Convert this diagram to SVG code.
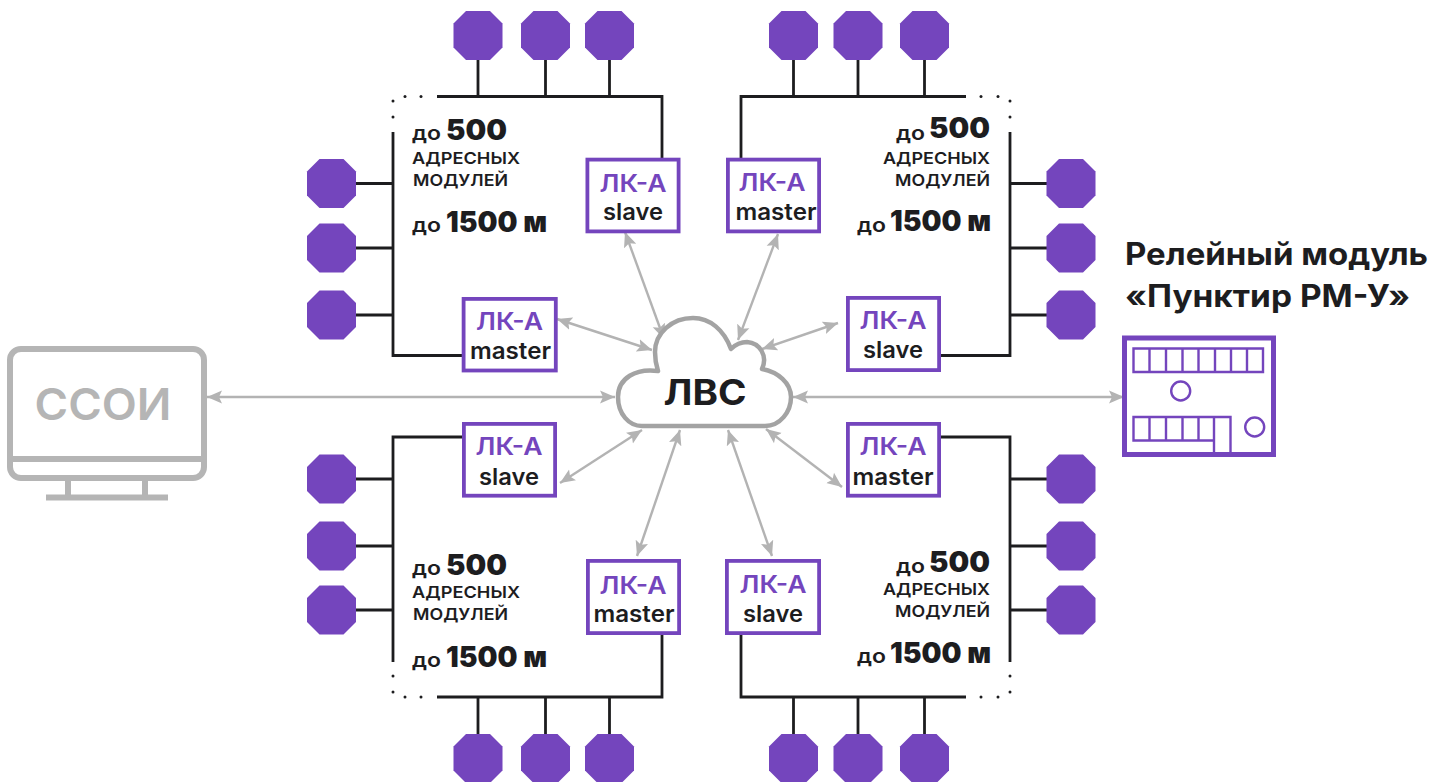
<svg xmlns="http://www.w3.org/2000/svg" width="1433" height="782" viewBox="0 0 1433 782">
<style>
text{font-family:Inter,"Noto Sans",sans-serif;fill:#1d1d1f}
.oct{fill:#7445bd}
.box{fill:#fff;stroke:#7445bd;stroke-width:3.8}
.lk{font-size:24px;font-weight:600;fill:#7445bd;text-anchor:middle}
.role{font-size:23px;font-weight:600;text-anchor:middle}
.do{font-size:20px;font-weight:600}
.num{font-size:28px;font-weight:900}
.cap{font-size:16.5px;font-weight:600}
.bus{fill:none;stroke:#1d1d1f;stroke-width:2.8}
.dot{fill:#1d1d1f}
.arr{stroke:#b3b3b3;stroke-width:2.4;fill:none;marker-start:url(#ah);marker-end:url(#ah)}
.gr{fill:none;stroke:#b5b5b5;stroke-width:6}
.rm{fill:none;stroke:#7445bd;stroke-width:2.4}
</style>
<defs>
<marker id="ah" markerUnits="userSpaceOnUse" markerWidth="16" markerHeight="14" refX="15" refY="7" orient="auto-start-reverse"><path d="M15 7L0 0.500L3 7L0 13.500Z" fill="#b3b3b3"/></marker>
<polygon id="o" points="-24.5,-12 -12,-24.5 12,-24.5 24.5,-12 24.5,12 12,24.5 -12,24.5 -24.5,12"/>
</defs>

<g id="connectors">
<path class="bus" d="M437 96.500H662V158M478 60V96.500M545.500 60V96.500M609.500 60V96.500M393 132V355.500H462M356 183.500H393M356 248H393M356 315H393"/>
<path class="bus" d="M966 96.500H741V158M793.500 60V96.500M858 60V96.500M924.500 60V96.500M1010 132V355.500H941M1047 183.500H1010M1047 248H1010M1047 315H1010"/>
<path class="bus" d="M437 697H662V635M478 697V734M545.500 697V734M609.500 697V734M393 662V437H462M356 479H393M356 546H393M356 610H393"/>
<path class="bus" d="M966 697H741V635M793.500 697V734M858 697V734M924.500 697V734M1010 662V437H941M1047 479H1010M1047 546H1010M1047 610H1010"/>
<g class="dot">
<circle cx="393" cy="101" r="1.500"/><circle cx="393" cy="117" r="1.500"/><circle cx="405" cy="96.500" r="1.500"/><circle cx="421" cy="96.500" r="1.500"/>
<circle cx="1010" cy="101" r="1.500"/><circle cx="1010" cy="117" r="1.500"/><circle cx="998" cy="96.500" r="1.500"/><circle cx="981" cy="96.500" r="1.500"/>
<circle cx="393" cy="692" r="1.500"/><circle cx="393" cy="676" r="1.500"/><circle cx="405" cy="697" r="1.500"/><circle cx="421" cy="697" r="1.500"/>
<circle cx="1010" cy="692" r="1.500"/><circle cx="1010" cy="676" r="1.500"/><circle cx="998" cy="697" r="1.500"/><circle cx="981" cy="697" r="1.500"/>
</g>
<line class="arr" x1="625" y1="232" x2="664" y2="339"/>
<line class="arr" x1="557" y1="319" x2="652" y2="350"/>
<line class="arr" x1="778" y1="234" x2="738" y2="340"/>
<line class="arr" x1="838" y1="323" x2="762" y2="349"/>
<line class="arr" x1="207" y1="397" x2="615" y2="397"/>
<line class="arr" x1="793" y1="397" x2="1124" y2="397"/>
<line class="arr" x1="560" y1="483" x2="642" y2="430"/>
<line class="arr" x1="637" y1="556" x2="680" y2="430"/>
<line class="arr" x1="772" y1="556" x2="728" y2="430"/>
<line class="arr" x1="842" y1="487" x2="766" y2="429"/>
</g>

<g id="cloud">
<path d="M642 426H765C780 426 791 412 791 397C791 383 778 372 762 369C768 356 760 343 747 342C741 342 735 345 731 349C724 330 710 318 693 318C672 318 655 333 655 352C655 358 656 365 658 371C636 368 618 378 618 397C618 414 629 426 642 426Z" fill="#fff" stroke="#a3a3a3" stroke-width="4.500" stroke-linejoin="round"/>
<text x="705" y="405" font-size="35" font-weight="700" text-anchor="middle" textLength="83" lengthAdjust="spacingAndGlyphs">ЛВС</text>
</g>

<g id="ssoi">
<rect class="gr" x="10" y="349" width="194" height="129" rx="11"/>
<path class="gr" d="M10 459H204M68 481V497M145 481V497M46 497.500H168"/>
<text x="103" y="420" font-size="44" font-weight="600" style="fill:#b5b5b5" text-anchor="middle" textLength="137" lengthAdjust="spacingAndGlyphs">ССОИ</text>
</g>

<g id="relay">
<text x="1125" y="265" font-size="31" font-weight="700" textLength="303" lengthAdjust="spacingAndGlyphs">Релейный модуль</text>
<text x="1125" y="307" font-size="31" font-weight="700" textLength="285" lengthAdjust="spacingAndGlyphs">«Пунктир РМ-У»</text>
<rect x="1124.500" y="338" width="149" height="116.500" fill="#fff" stroke="#7445bd" stroke-width="5"/>
<path class="rm" d="M1133.500 348.500H1263V372H1133.500ZM1149.500 348.500V372M1166 348.500V372M1182.500 348.500V372M1198.500 348.500V372M1215 348.500V372M1231 348.500V372M1247 348.500V372"/>
<path class="rm" d="M1214 417H1133.500V440.500H1214M1149.500 417V440.500M1166 417V440.500M1182.500 417V440.500M1198.500 417V440.500M1214 417V453M1214 417H1230.500V453"/>
<circle class="rm" cx="1180.700" cy="391" r="9.500"/>
<circle class="rm" cx="1254.700" cy="427" r="9.500"/>
</g>

<g id="zone-tl">
<text class="do" x="412" y="140" textLength="29" lengthAdjust="spacingAndGlyphs">до</text><text class="num" x="446" y="140" textLength="61" lengthAdjust="spacingAndGlyphs">500</text>
<text class="cap" x="412" y="164" textLength="108" lengthAdjust="spacingAndGlyphs">АДРЕСНЫХ</text>
<text class="cap" x="413" y="186" textLength="95" lengthAdjust="spacingAndGlyphs">МОДУЛЕЙ</text>
<text class="do" x="412" y="232" textLength="29" lengthAdjust="spacingAndGlyphs">до</text><text class="num" x="446" y="232" textLength="101" lengthAdjust="spacingAndGlyphs">1500 м</text>
</g>
<g id="zone-tr">
<text class="do" x="896" y="140" textLength="29" lengthAdjust="spacingAndGlyphs">до</text><text class="num" x="929" y="138" textLength="61" lengthAdjust="spacingAndGlyphs">500</text>
<text class="cap" x="883" y="164" textLength="107" lengthAdjust="spacingAndGlyphs">АДРЕСНЫХ</text>
<text class="cap" x="895" y="186" textLength="95" lengthAdjust="spacingAndGlyphs">МОДУЛЕЙ</text>
<text class="do" x="857" y="232" textLength="29" lengthAdjust="spacingAndGlyphs">до</text><text class="num" x="890" y="231" textLength="101" lengthAdjust="spacingAndGlyphs">1500 м</text>
</g>
<g id="zone-bl">
<text class="do" x="412" y="575" textLength="29" lengthAdjust="spacingAndGlyphs">до</text><text class="num" x="446" y="575" textLength="61" lengthAdjust="spacingAndGlyphs">500</text>
<text class="cap" x="412" y="598" textLength="108" lengthAdjust="spacingAndGlyphs">АДРЕСНЫХ</text>
<text class="cap" x="413" y="620" textLength="95" lengthAdjust="spacingAndGlyphs">МОДУЛЕЙ</text>
<text class="do" x="412" y="667" textLength="29" lengthAdjust="spacingAndGlyphs">до</text><text class="num" x="446" y="667" textLength="101" lengthAdjust="spacingAndGlyphs">1500 м</text>
</g>
<g id="zone-br">
<text class="do" x="896" y="573" textLength="29" lengthAdjust="spacingAndGlyphs">до</text><text class="num" x="929" y="572" textLength="61" lengthAdjust="spacingAndGlyphs">500</text>
<text class="cap" x="883" y="595" textLength="107" lengthAdjust="spacingAndGlyphs">АДРЕСНЫХ</text>
<text class="cap" x="895" y="617" textLength="95" lengthAdjust="spacingAndGlyphs">МОДУЛЕЙ</text>
<text class="do" x="857" y="663" textLength="29" lengthAdjust="spacingAndGlyphs">до</text><text class="num" x="890" y="663" textLength="101" lengthAdjust="spacingAndGlyphs">1500 м</text>
</g>

<g id="lk-tl-slave"><rect class="box" x="587.400" y="159.600" width="91.200" height="71.800"/><text class="lk" x="633" y="192" textLength="67" lengthAdjust="spacingAndGlyphs">ЛК-А</text><text class="role" x="633" y="220" textLength="60" lengthAdjust="spacingAndGlyphs">slave</text></g>
<g id="lk-tl-master"><rect class="box" x="463.600" y="298.900" width="92.200" height="71.600"/><text class="lk" x="509.500" y="330" textLength="67" lengthAdjust="spacingAndGlyphs">ЛК-А</text><text class="role" x="510.500" y="359" textLength="81" lengthAdjust="spacingAndGlyphs">master</text></g>
<g id="lk-tr-master"><rect class="box" x="727.900" y="159.600" width="91.200" height="71.800"/><text class="lk" x="772" y="191" textLength="67" lengthAdjust="spacingAndGlyphs">ЛК-А</text><text class="role" x="776" y="220" textLength="81" lengthAdjust="spacingAndGlyphs">master</text></g>
<g id="lk-tr-slave"><rect class="box" x="847.900" y="297.900" width="91.200" height="72.200"/><text class="lk" x="893" y="329" textLength="67" lengthAdjust="spacingAndGlyphs">ЛК-А</text><text class="role" x="893" y="358" textLength="60" lengthAdjust="spacingAndGlyphs">slave</text></g>
<g id="lk-bl-slave"><rect class="box" x="463.900" y="423.900" width="91.200" height="71.800"/><text class="lk" x="509" y="455" textLength="67" lengthAdjust="spacingAndGlyphs">ЛК-А</text><text class="role" x="509" y="485" textLength="60" lengthAdjust="spacingAndGlyphs">slave</text></g>
<g id="lk-bl-master"><rect class="box" x="587.900" y="560.900" width="91.200" height="72.200"/><text class="lk" x="633" y="594" textLength="67" lengthAdjust="spacingAndGlyphs">ЛК-А</text><text class="role" x="634" y="622" textLength="81" lengthAdjust="spacingAndGlyphs">master</text></g>
<g id="lk-br-slave"><rect class="box" x="726.900" y="560.900" width="92.200" height="72.200"/><text class="lk" x="773" y="593" textLength="67" lengthAdjust="spacingAndGlyphs">ЛК-А</text><text class="role" x="773" y="622" textLength="60" lengthAdjust="spacingAndGlyphs">slave</text></g>
<g id="lk-br-master"><rect class="box" x="847.900" y="423.900" width="91.200" height="71.800"/><text class="lk" x="893" y="455" textLength="67" lengthAdjust="spacingAndGlyphs">ЛК-А</text><text class="role" x="893" y="485" textLength="81" lengthAdjust="spacingAndGlyphs">master</text></g>

<g id="dev-t1" class="oct"><use href="#o" x="478" y="35.500"/></g>
<g id="dev-t2" class="oct"><use href="#o" x="545.500" y="35.500"/></g>
<g id="dev-t3" class="oct"><use href="#o" x="609.500" y="35.500"/></g>
<g id="dev-t4" class="oct"><use href="#o" x="793.500" y="35.500"/></g>
<g id="dev-t5" class="oct"><use href="#o" x="858" y="35.500"/></g>
<g id="dev-t6" class="oct"><use href="#o" x="924.500" y="35.500"/></g>
<g id="dev-l1" class="oct"><use href="#o" x="331.500" y="183.500"/></g>
<g id="dev-l2" class="oct"><use href="#o" x="331.500" y="248"/></g>
<g id="dev-l3" class="oct"><use href="#o" x="331.500" y="315"/></g>
<g id="dev-l4" class="oct"><use href="#o" x="331.500" y="479"/></g>
<g id="dev-l5" class="oct"><use href="#o" x="331.500" y="546"/></g>
<g id="dev-l6" class="oct"><use href="#o" x="331.500" y="610"/></g>
<g id="dev-r1" class="oct"><use href="#o" x="1071" y="183.500"/></g>
<g id="dev-r2" class="oct"><use href="#o" x="1071" y="248"/></g>
<g id="dev-r3" class="oct"><use href="#o" x="1071" y="315"/></g>
<g id="dev-r4" class="oct"><use href="#o" x="1071" y="479"/></g>
<g id="dev-r5" class="oct"><use href="#o" x="1071" y="546"/></g>
<g id="dev-r6" class="oct"><use href="#o" x="1071" y="610"/></g>
<g id="dev-b1" class="oct"><use href="#o" x="478" y="758.500"/></g>
<g id="dev-b2" class="oct"><use href="#o" x="545.500" y="758.500"/></g>
<g id="dev-b3" class="oct"><use href="#o" x="609.500" y="758.500"/></g>
<g id="dev-b4" class="oct"><use href="#o" x="793.500" y="758.500"/></g>
<g id="dev-b5" class="oct"><use href="#o" x="858" y="758.500"/></g>
<g id="dev-b6" class="oct"><use href="#o" x="924.500" y="758.500"/></g>
</svg>
